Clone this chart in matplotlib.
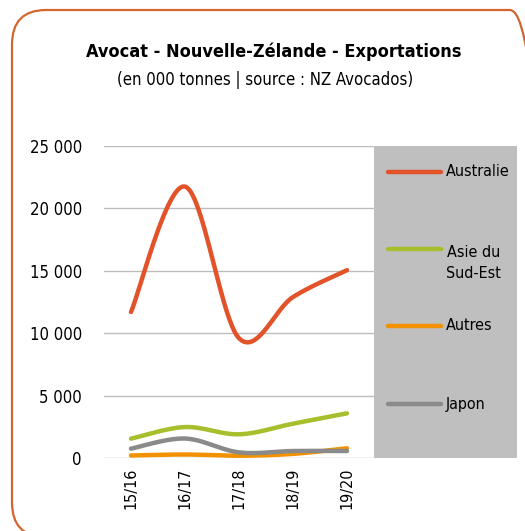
import numpy as np
import matplotlib
matplotlib.use("Agg")
import matplotlib.pyplot as plt
from matplotlib.patches import FancyBboxPatch, Rectangle
from matplotlib.lines import Line2D
from matplotlib.ticker import FuncFormatter

plt.rcParams['font.family'] = ['DejaVu Sans']
plt.rcParams['font.stretch'] = 'condensed'

# Data (tonnes)
seasons = ["15/16", "16/17", "17/18", "18/19", "19/20"]
australie = [11700, 21750, 9600, 12900, 15050]
asie_sud_est = [1550, 2480, 1900, 2750, 3580]
autres = [200, 280, 180, 330, 780]
japon = [750, 1560, 450, 560, 560]

series_names = ["Australie", "Asie du\nSud-Est", "Autres", "Japon"]
series_colors = ["#E2532A", "#A8BE2C", "#F39200", "#8A8A8A"]
series_values = [australie, asie_sud_est, autres, japon]


def smooth(x, y, n=40):
    """Excel-like smoothed line (Catmull-Rom through the points)."""
    x = np.asarray(x, float)
    y = np.asarray(y, float)
    px = np.concatenate([[x[0]], x, [x[-1]]])
    py = np.concatenate([[y[0]], y, [y[-1]]])
    xs, ys = [], []
    t = np.linspace(0, 1, n)
    for i in range(1, len(px) - 2):
        p0, p1, p2, p3 = (np.array([px[j], py[j]]) for j in range(i - 1, i + 3))
        c1 = p1 + (p2 - p0) / 6
        c2 = p2 - (p3 - p1) / 6
        pts = ((1 - t) ** 3)[:, None] * p1 + (3 * (1 - t) ** 2 * t)[:, None] * c1 \
            + (3 * (1 - t) * t ** 2)[:, None] * c2 + (t ** 3)[:, None] * p2
        xs.append(pts[:, 0])
        ys.append(pts[:, 1])
    return np.concatenate(xs), np.concatenate(ys)


fig = plt.figure(figsize=(5.25, 5.31), dpi=100)
W, H = 525, 531

# Rounded frame (right and bottom edges run off the image)
frame = FancyBboxPatch((12 / W, -6 / H), 532 / W, 527 / H,
                       boxstyle="round,pad=0,rounding_size=0.065",
                       transform=fig.transFigure, fill=False,
                       edgecolor="#D2662E", linewidth=1.6)
fig.add_artist(frame)

fig.text(274 / W, 1 - 52 / H, "Avocat - Nouvelle-Zélande - Exportations",
         ha="center", va="center", fontsize=13, fontweight="bold")
fig.text(265 / W, 1 - 80 / H, "(en 000 tonnes | source : NZ Avocados)",
         ha="center", va="center", fontsize=12)

# Legend box
fig.add_artist(Rectangle((374 / W, 1 - 458 / H), 143 / W, 312 / H,
                         transform=fig.transFigure, facecolor="#BFBFBF",
                         edgecolor="none"))

ax = fig.add_axes([104 / W, 1 - 458 / H, 270 / W, 312 / H])
x = np.arange(len(seasons))
for vals, col in zip(series_values, series_colors):
    sx, sy = smooth(x, vals)
    ax.plot(sx, sy, color=col, lw=3.2, solid_capstyle="round", zorder=3)

ax.set_xlim(-0.5, len(seasons) - 0.5)
ax.set_ylim(0, 25000)
ax.set_yticks(np.arange(0, 25001, 5000))
ax.yaxis.set_major_formatter(FuncFormatter(lambda v, p: f"{int(v):,}".replace(",", " ")))
ax.set_xticks(x)
ax.set_xticklabels(seasons, rotation=90, fontsize=11.5)
ax.tick_params(axis="y", labelsize=12, length=0, pad=16)
ax.tick_params(axis="x", length=0, pad=7)
ax.grid(axis="y", color="#BDBDBD", lw=1)
ax.set_axisbelow(True)
for s in ax.spines.values():
    s.set_visible(False)

# Manual legend
leg_y = [172, 249, 326, 404]
text_y = [172, 263, 326, 404]
for name, col, ly, ty in zip(series_names, series_colors, leg_y, text_y):
    fig.add_artist(Line2D([388 / W, 441 / W], [1 - ly / H, 1 - ly / H],
                          transform=fig.transFigure, color=col, lw=3.2,
                          solid_capstyle="round"))
    fig.text(446 / W, 1 - ty / H, name, ha="left", va="center", fontsize=11.5,
             linespacing=1.5, multialignment="center")

fig.savefig("out.png", dpi=100)
